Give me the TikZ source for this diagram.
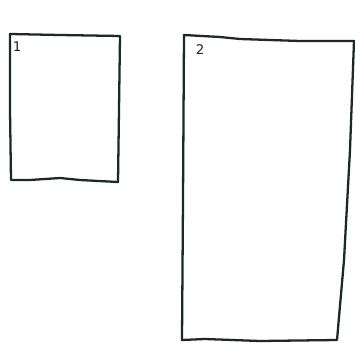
\documentclass[tikz,border=0pt]{standalone}
\usepackage{fontspec}
\setmainfont{DejaVu Sans}
\definecolor{ink}{HTML}{1C2A24}
\begin{document}
\begin{tikzpicture}[x=0.1cm,y=-0.1cm,
    sketch/.style={ink, line width=6.5pt, line join=round, line cap=round},
    tag/.style={ink, font=\fontsize{38}{38}\selectfont, inner sep=0pt}]
    \useasboundingbox[fill=white] (0,0) rectangle (355,343);
    % small sheet
    \coordinate (A1) at (10,34);
    \coordinate (B1) at (120,36);
    \coordinate (C1) at (118,182);
    \coordinate (D1) at (11,180);
    \draw[sketch] (A1) -- (60,35) -- (B1) -- (119,110) -- (C1)
        -- (80,180) -- (60,178) -- (30,180) -- (D1) -- (10,110) -- cycle;
    \node[tag] (one) at (17,47) {1};
    % big sheet
    \coordinate (A2) at (184,35);
    \coordinate (B2) at (354,41);
    \coordinate (C2) at (337,340);
    \coordinate (D2) at (182,340);
    \draw[sketch] (A2) -- (220,37) -- (240,39) -- (300,41) -- (B2)
        -- (350,150) -- (344,260) -- (C2)
        -- (260,341) -- (205,339) -- (D2) -- (183,200) -- cycle;
    \node[tag] (two) at (200,50) {2};
\end{tikzpicture}
\end{document}
